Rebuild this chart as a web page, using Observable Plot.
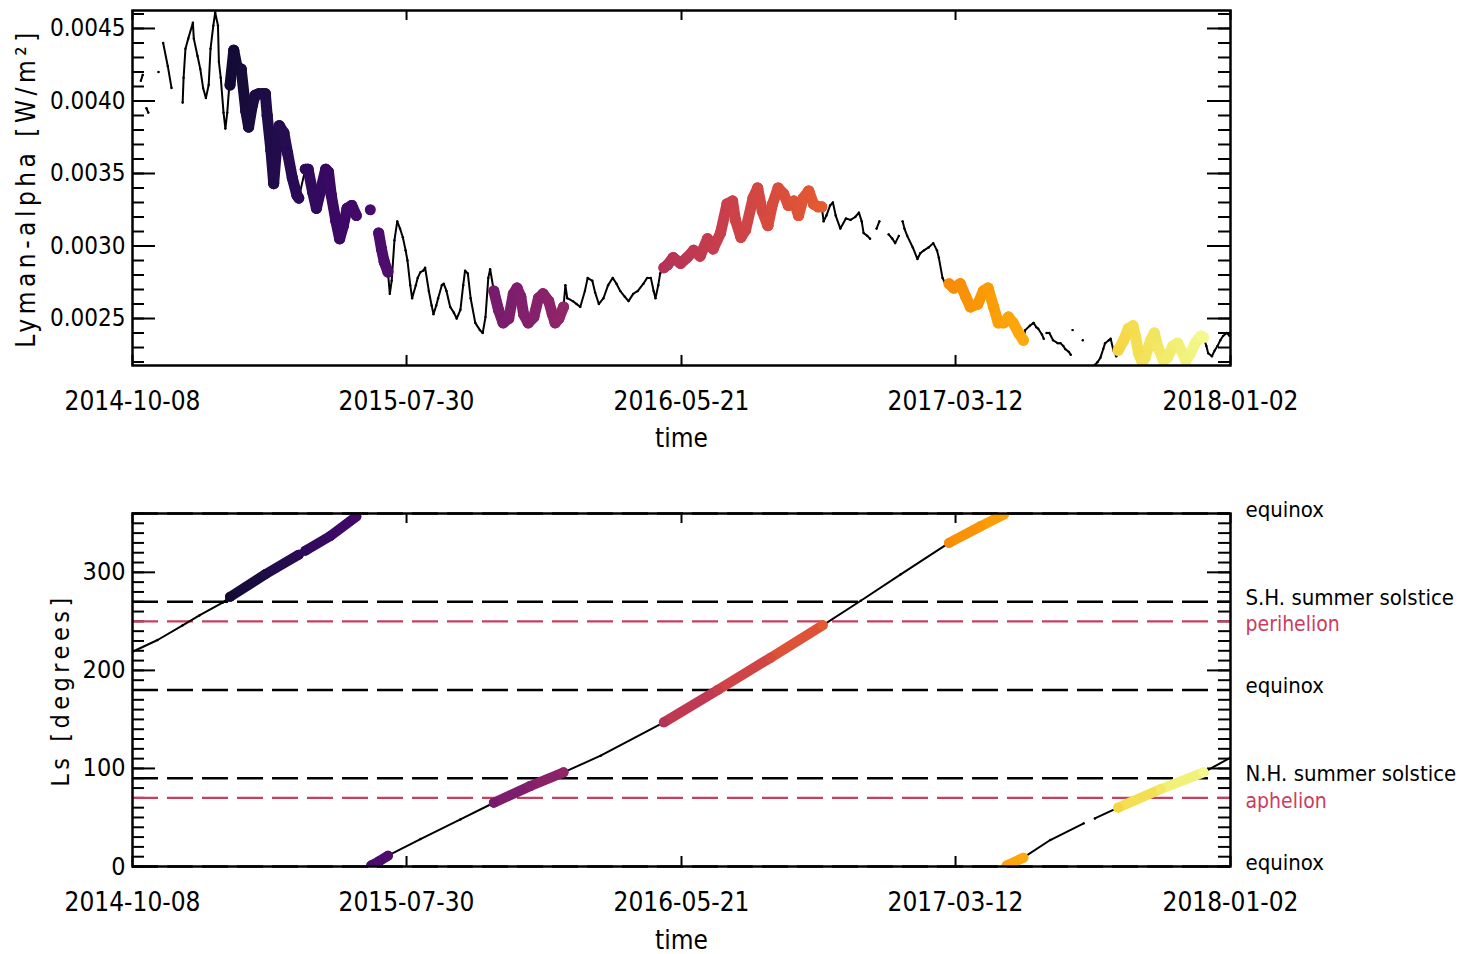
<!DOCTYPE html>
<html>
<head>
<meta charset="utf-8">
<script src="https://cdn.jsdelivr.net/npm/d3@7"></script>
<script src="https://cdn.jsdelivr.net/npm/@observablehq/plot@0.6"></script>
<style>
  body { margin: 0; background: #fff; }
  #chart svg { display: block; }
</style>
</head>
<body>
<div id="chart"></div>
<script>
// ---------- data ----------
const startDay = "2014-10-08";          // day 0
const totalDays = 1182;                  // 2018-01-02
const tickDates = ["2014-10-08", "2015-07-30", "2016-05-21", "2017-03-12", "2018-01-02"];

// Lyman-alpha irradiance (W/m^2); day = days since 2014-10-08, null = gap in record
const lyaDay = [
  9, 11, 13, 15, 17, 22, 28, 30, 33, 38,
  42, 48, 54, 55, 57, 60, 65, 66, 70, 73,
  76, 79, 82, 84, 87, 89, 92, 93, 95, 98,
  100, 102, 104, 105, 109, 113, 117, 122, 125, 129,
  132, 136, 140, 143, 145, 149, 152, 155, 158, 163,
  167, 172, 177, 179, 186, 189, 194, 198, 202, 208,
  211, 214, 219, 223, 227, 231, 236, 241, 248, 256,
  260, 265, 268, 271, 275, 277, 279, 282, 285, 288,
  291, 294, 296, 299, 301, 305, 307, 310, 313, 315,
  319, 322, 324, 327, 329, 333, 335, 338, 342, 346,
  349, 353, 356, 358, 361, 364, 369, 374, 377, 380,
  383, 385, 389, 394, 399, 405, 410, 414, 418, 421,
  426, 432, 437, 442, 448, 452, 455, 459, 464, 466,
  468, 474, 478, 482, 487, 490, 495, 498, 502, 507,
  512, 517, 521, 525, 530, 534, 539, 544, 550, 554,
  558, 561, 563, 566, 568, 572, 576, 582, 590, 597,
  604, 611, 619, 625, 633, 640, 646, 649, 655, 660,
  668, 673, 678, 684, 689, 695, 701, 706, 712, 717,
  722, 728, 733, 738, 742, 744, 747, 751, 754, 757,
  762, 768, 773, 778, 782, 785, 787, 791, 794, 797,
  801, 804, 809, 814, 818, 821, 825, 827, 829, 831,
  834, 840, 845, 848, 852, 857, 862, 866, 868, 872,
  875, 879, 884, 891, 897, 902, 910, 916, 921, 927,
  932, 938, 943, 948, 954, 959, 961, 966, 970, 973,
  975, 979, 981, 982, 984, 987, 991, 996, 999, 1002,
  1004, 1008, 1010, 1011, 1012, 1018, 1023, 1030, 1036, 1039,
  1042, 1045, 1047, 1051, 1053, 1056, 1059, 1061, 1067, 1072,
  1077, 1080, 1083, 1087, 1090, 1096, 1100, 1104, 1110, 1114,
  1120, 1125, 1129, 1134, 1139, 1144, 1150, 1153, 1156, 1158,
  1162, 1165, 1168, 1171, 1174, 1178, 1181
];
const lyaValue = [
  0.00414, 0.00418, null, 0.00395, 0.00392, null, 0.00420, null, 0.00440, 0.00424,
  0.00409, null, 0.00399, 0.00416, 0.00436, 0.00443, 0.00454, 0.00443, 0.00431, 0.00422,
  0.00409, 0.00402, 0.00411, 0.00436, 0.00452, 0.00461, 0.00452, 0.00427, 0.00416, 0.00392,
  0.00381, 0.00392, 0.00409, 0.00411, 0.00435, 0.00422, 0.00422, 0.00393, 0.00382, 0.00397,
  0.00404, 0.00405, 0.00405, 0.00405, 0.00390, 0.00366, 0.00343, 0.00367, 0.00383, 0.00378,
  0.00364, 0.00347, 0.00335, 0.00333, 0.00353, 0.00353, 0.00337, 0.00326, 0.00337, 0.00353,
  0.00351, 0.00335, 0.00317, 0.00305, 0.00314, 0.00326, 0.00328, 0.00321, null, 0.00325,
  null, 0.00309, 0.00298, 0.00289, 0.00282, 0.00267, 0.00276, 0.00304, 0.00317, 0.00312,
  0.00306, 0.00297, 0.00290, 0.00273, 0.00264, 0.00273, 0.00278, 0.00282, 0.00283, 0.00285,
  0.00269, 0.00259, 0.00253, 0.00259, 0.00264, 0.00273, 0.00274, 0.00269, 0.00258, 0.00254,
  0.00250, 0.00256, 0.00273, 0.00283, 0.00281, 0.00264, 0.00247, 0.00242, 0.00240, 0.00251,
  0.00278, 0.00284, 0.00269, 0.00256, 0.00247, 0.00250, 0.00267, 0.00271, 0.00265, 0.00253,
  0.00247, 0.00251, 0.00264, 0.00267, 0.00262, 0.00253, 0.00247, 0.00250, 0.00258, 0.00273,
  0.00264, 0.00262, 0.00260, 0.00258, 0.00269, 0.00278, 0.00276, 0.00268, 0.00260, 0.00264,
  0.00273, 0.00278, 0.00274, 0.00269, 0.00265, 0.00262, 0.00267, 0.00269, 0.00274, 0.00278,
  0.00278, 0.00269, 0.00264, 0.00273, 0.00281, 0.00285, 0.00287, 0.00292, 0.00288, 0.00292,
  0.00297, 0.00293, 0.00305, 0.00298, 0.00309, 0.00329, 0.00331, 0.00318, 0.00306, 0.00311,
  0.00333, 0.00340, 0.00324, 0.00314, 0.00329, 0.00340, 0.00336, 0.00328, 0.00331, 0.00321,
  0.00333, 0.00338, 0.00329, 0.00327, 0.00327, 0.00317, 0.00321, 0.00328, 0.00330, 0.00321,
  0.00312, 0.00319, 0.00318, 0.00320, 0.00323, 0.00317, 0.00309, 0.00307, 0.00305, null,
  0.00312, 0.00317, null, 0.00308, 0.00305, 0.00302, 0.00307, null, 0.00317, 0.00312,
  0.00307, 0.00299, 0.00291, 0.00295, 0.00297, 0.00299, 0.00302, 0.00297, 0.00292, 0.00278,
  0.00274, 0.00274, 0.00271, 0.00274, 0.00265, 0.00258, 0.00260, 0.00269, 0.00271, 0.00258,
  0.00247, 0.00247, 0.00251, 0.00247, 0.00240, 0.00235, 0.00242, 0.00245, 0.00247, 0.00244,
  0.00243, 0.00239, 0.00236, null, 0.00240, 0.00240, 0.00235, 0.00233, 0.00233, 0.00231,
  0.00229, 0.00227, 0.00225, null, 0.00242, null, 0.00235, null, 0.00218, 0.00220,
  0.00223, 0.00229, 0.00233, 0.00235, 0.00236, 0.00228, 0.00224, 0.00228, 0.00235, 0.00243,
  0.00245, 0.00237, 0.00226, 0.00220, 0.00223, 0.00235, 0.00240, 0.00230, 0.00221, 0.00223,
  0.00231, 0.00233, 0.00228, 0.00221, 0.00226, 0.00233, 0.00238, 0.00237, 0.00231, 0.00226,
  0.00224, 0.00228, 0.00231, 0.00235, 0.00238, 0.00240, 0.00238
];

// Solar longitude Ls (degrees); null = wrap 360 -> 0 / gap
const lsDay = [0, 27, 54, 72, 97, 105, 143, 179, 186, 213, 241, 249, 257, 265, 275, 310, 353, 389, 428, 464,
               504, 572, 630, 687, 743, 784, 827, 879, 913, 938, 940, 941, 959, 988, 1024, 1030, 1036, 1061, 1107, 1153, 1182];
const lsValue = [219, 231, 246, 256, 269, 275, 298, 318, 322, 337, 357, null, 1, 5, 11, 28, 48, 65, 82, 96,
                 113, 147, 180, 213, 246, 271, 298, 330, 347, 359, null, 1, 9, 27, 44, null, 49, 60, 79, 96, 111];

// observing campaigns (highlighted, coloured by time), in days since start
const campaignStart = [105, 186, 256, 389, 572, 879, 1061];
const campaignEnd   = [179, 241, 275, 464, 743, 959, 1153];

// tick values
const lyaTicks = [0.0025, 0.0030, 0.0035, 0.0040, 0.0045];
const lyaMinorTicks = d3.range(22, 47).map(i => i / 10000);
const lsTicks = [0, 100, 200, 300];
const lsMinorTicks = d3.range(0, 361, 10);

// reference Ls lines
const seasonLs    = [360, 270, 250, 180, 90, 70, 0];
const seasonLabel = ["equinox", "S.H. summer solstice", "perihelion", "equinox", "N.H. summer solstice", "aphelion", "equinox"];
const seasonKind  = ["season", "season", "orbit", "season", "season", "orbit", "season"];

if (lyaDay.length !== lyaValue.length) throw new Error("lya length mismatch " + lyaDay.length + " " + lyaValue.length);
if (lsDay.length !== lsValue.length) throw new Error("ls length mismatch");

// ---------- helpers ----------
const t0 = Date.parse(startDay + "T00:00:00Z");
const toDate = d => new Date(t0 + d * 864e5);
const campaignOf = day => campaignStart.findIndex((s, k) => day >= s && day <= campaignEnd[k]);

function buildSeries(days, vals) {
  const pts = days.map((d, i) => ({day: d, date: toDate(d), v: vals[i] == null ? NaN : vals[i], k: campaignOf(d)}));
  const links = [];
  for (let i = 1; i < pts.length; i++) {
    const a = pts[i - 1], b = pts[i];
    if (!isNaN(a.v) && !isNaN(b.v) && a.k >= 0 && a.k === b.k)
      links.push({x1: a.date, y1: a.v, x2: b.date, y2: b.v, day: (a.day + b.day) / 2});
  }
  const colored = pts.filter(p => !isNaN(p.v) && p.k >= 0);
  return {pts, links, colored};
}

const W = 1459, ML = 132, MR = 229;
const innerW = W - ML - MR;
const FONT = "'DejaVu Sans Condensed', 'Liberation Sans Narrow', 'DejaVu Sans', sans-serif";
const RED = "#c93d5e";
const xTicks = tickDates.map(s => new Date(s + "T00:00:00Z"));
const xScale = {type: "utc", domain: [toDate(0), toDate(totalDays)]};
const colorScale = {type: "linear", scheme: "inferno", domain: [0, totalDays]};

function frameTicks(innerH, majors, minors) {
  return [
    Plot.tickY(minors, {y: d => d, insetRight: innerW - 12, strokeWidth: 2}),
    Plot.tickY(minors, {y: d => d, insetLeft: innerW - 12, strokeWidth: 2}),
    Plot.tickY(majors, {y: d => d, insetRight: innerW - 23, strokeWidth: 2}),
    Plot.tickY(majors, {y: d => d, insetLeft: innerW - 23, strokeWidth: 2}),
    Plot.tickX(xTicks, {x: d => d, insetTop: innerH - 10, strokeWidth: 2}),
    Plot.tickX(xTicks, {x: d => d, insetBottom: innerH - 10, strokeWidth: 2})
  ];
}

function dataMarks(s, thick) {
  return [
    Plot.line(s.pts, {x: "date", y: "v", stroke: "black", strokeWidth: 2, clip: true}),
    Plot.dot(s.pts, {x: "date", y: "v", r: 1.2, fill: "black", clip: true}),
    Plot.link(s.links, {x1: "x1", y1: "y1", x2: "x2", y2: "y2", stroke: "day", strokeWidth: thick, strokeLinecap: "round", clip: true}),
    Plot.dot(s.colored, {x: "date", y: "v", r: thick / 2, fill: "day", clip: true})
  ];
}

const chart = document.getElementById("chart");

// ---------- top panel ----------
const lya = buildSeries(lyaDay, lyaValue);
const topH = 460, topMT = 10, topMB = 95;
const topInnerH = topH - topMT - topMB;
const yLabelTop = "Lyman-alpha [W/m²]";
const topPlot = Plot.plot({
  width: W, height: topH,
  marginLeft: ML, marginRight: MR, marginTop: topMT, marginBottom: topMB,
  style: {fontFamily: FONT, fontSize: "24px", color: "black", background: "white"},
  x: xScale,
  y: {domain: [0.002176, 0.004624]},
  color: colorScale,
  marks: [
    ...frameTicks(topInnerH, lyaTicks, lyaMinorTicks),
    ...dataMarks(lya, 11),
    Plot.frame({strokeWidth: 2.5}),
    Plot.axisY(lyaTicks, {tickSize: 0, tickPadding: 7, tickFormat: d3.format(".4f"), fontSize: 24, label: null}),
    Plot.axisX(xTicks, {tickSize: 0, tickPadding: 26, tickFormat: d3.utcFormat("%Y-%m-%d"), fontSize: 26, label: null}),
    Plot.text(["time"], {text: d => d, frameAnchor: "bottom", dy: 73, lineAnchor: "middle", textAnchor: "middle", fontSize: 26}),
    Plot.text([yLabelTop], {text: d => d, frameAnchor: "left", dx: -106, rotate: -90, textAnchor: "middle", lineAnchor: "middle", fontSize: 26})
  ]
});
chart.appendChild(topPlot);

// ---------- bottom panel ----------
const ls = buildSeries(lsDay, lsValue);
const botH = 494, botMT = 53, botMB = 88;
const botInnerH = botH - botMT - botMB;
const seasons = seasonLs.map((v, i) => ({ls: v, label: seasonLabel[i], kind: seasonKind[i]}));
const yLabelBot = "Ls [degrees]";
const bottomPlot = Plot.plot({
  width: W, height: botH,
  marginLeft: ML, marginRight: MR, marginTop: botMT, marginBottom: botMB,
  style: {fontFamily: FONT, fontSize: "24px", color: "black", background: "white"},
  x: xScale,
  y: {domain: [0, 360]},
  color: colorScale,
  marks: [
    ...frameTicks(botInnerH, lsTicks, lsMinorTicks),
    Plot.ruleY(seasons.filter(d => d.kind === "season"), {y: "ls", stroke: "black", strokeWidth: 2.5, strokeDasharray: "26,9"}),
    Plot.ruleY(seasons.filter(d => d.kind === "orbit"), {y: "ls", stroke: RED, strokeWidth: 2.2, strokeDasharray: "26,9"}),
    ...dataMarks(ls, 10),
    Plot.frame({strokeWidth: 2.5}),
    Plot.axisY(lsTicks, {tickSize: 0, tickPadding: 7, fontSize: 25, label: null}),
    Plot.axisX(xTicks, {tickSize: 0, tickPadding: 26, tickFormat: d3.utcFormat("%Y-%m-%d"), fontSize: 26, label: null}),
    Plot.text(["time"], {text: d => d, frameAnchor: "bottom", dy: 74, lineAnchor: "middle", textAnchor: "middle", fontSize: 26}),
    Plot.text([yLabelBot], {text: d => d, frameAnchor: "left", dx: -72, rotate: -90, textAnchor: "middle", lineAnchor: "middle", fontSize: 25}),
    Plot.text(seasons.filter(d => d.kind === "season"), {y: "ls", text: "label", frameAnchor: "right", dx: 15, dy: -4, textAnchor: "start", lineAnchor: "middle", fontSize: 22, fill: "black"}),
    Plot.text(seasons.filter(d => d.kind === "orbit"), {y: "ls", text: "label", frameAnchor: "right", dx: 15, dy: 3, textAnchor: "start", lineAnchor: "middle", fontSize: 21, fill: RED})
  ]
});
chart.appendChild(bottomPlot);

// letter spacing for the rotated axis titles (the reference lettering is widely spaced)
d3.selectAll("#chart text")
  .filter(function () { return this.textContent === yLabelTop; })
  .style("letter-spacing", "4.5px");
d3.selectAll("#chart text")
  .filter(function () { return this.textContent === yLabelBot; })
  .style("letter-spacing", "4.5px");
</script>
</body>
</html>
